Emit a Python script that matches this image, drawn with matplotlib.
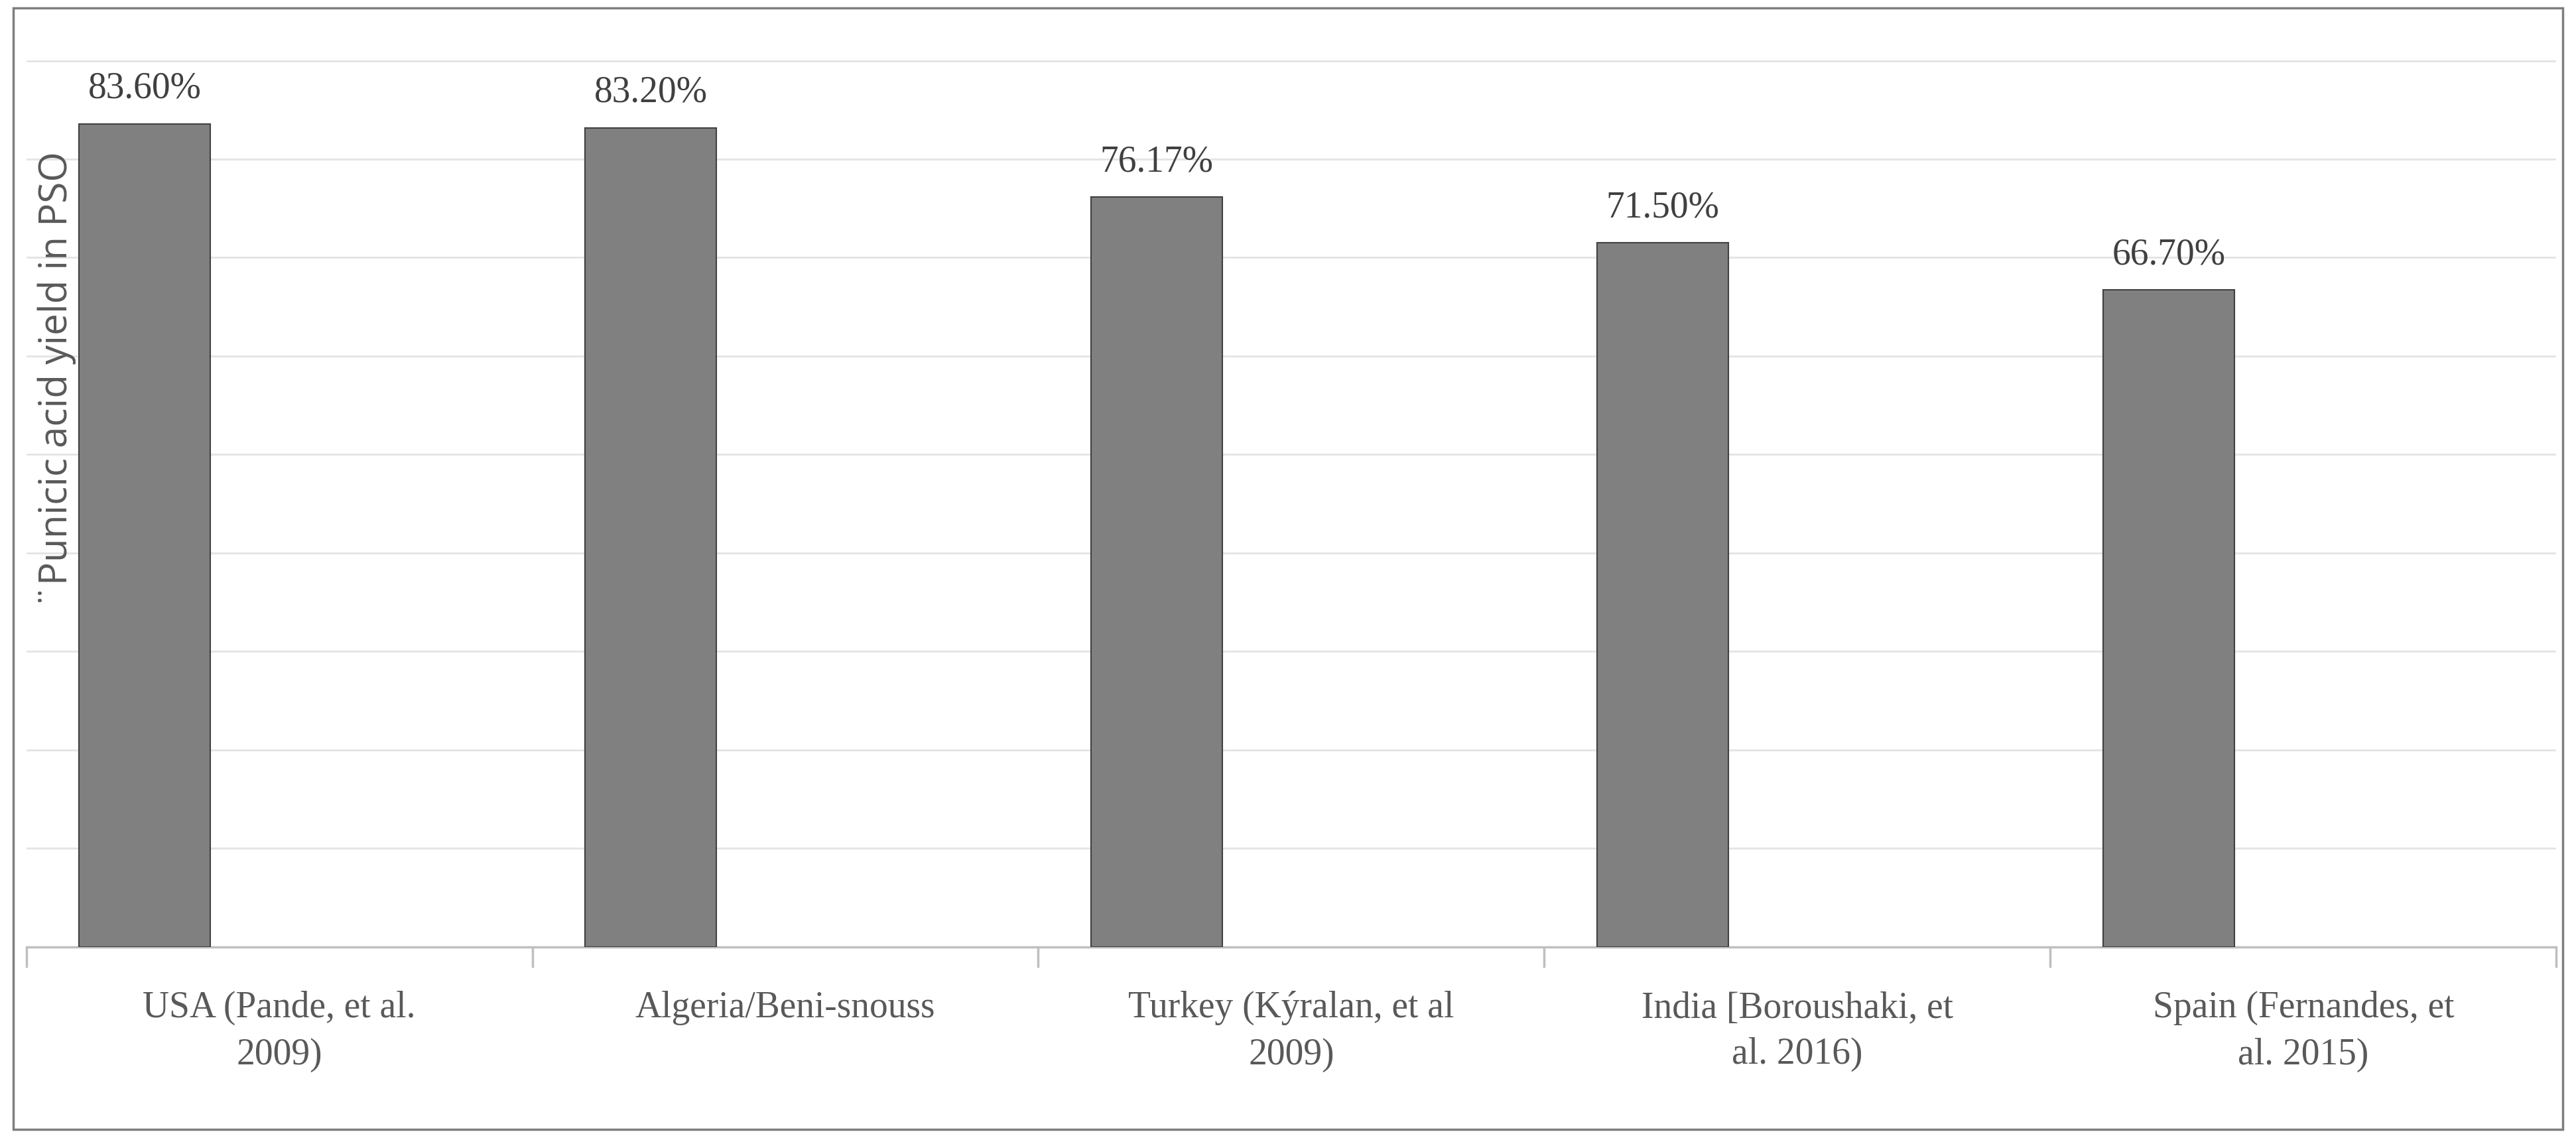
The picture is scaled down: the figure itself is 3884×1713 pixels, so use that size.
import matplotlib
matplotlib.use("Agg")
import matplotlib.pyplot as plt
from matplotlib.patches import Rectangle
import numpy as np

categories = ["USA (Pande, et al.\n2009)", "Algeria/Beni-snouss", "Turkey (Kýralan, et al\n2009)",
              "India [Boroushaki, et\nal. 2016)", "Spain (Fernandes, et\nal. 2015)"]
values = [83.60, 83.20, 76.17, 71.50, 66.70]
value_labels = ["83.60%", "83.20%", "76.17%", "71.50%", "66.70%"]
ylabel = "¨Punicic acid yield in PSO"

fig = plt.figure(figsize=(38.84, 17.13), dpi=100)
fig.patches.append(Rectangle((8/1568, 1-686/690), 1552/1568, 681/690, transform=fig.transFigure,
                             fill=False, edgecolor="#7f7f7f", linewidth=2.5))
ax = fig.add_axes([16/1568, 1-575/690, 1540/1568, 565/690])
x = np.arange(len(values))
ax.bar(x - 0.266, values, width=0.26, color="#808080", edgecolor="#404040", linewidth=1.5, zorder=3)
for xi, v, lab in zip(x, values, value_labels):
    ax.text(xi - 0.266, v + 1.8, lab, ha="center", va="bottom", fontsize=40,
            family="Liberation Serif", color="#404040")
ax.set_xlim(-0.5, 4.5)
ax.set_ylim(0, 94.5)
ax.set_yticks(np.arange(10, 91, 10))
ax.yaxis.grid(True, color="#e3e3e3", linewidth=2)
ax.tick_params(axis="y", length=0, labelleft=False)
ax.set_xticks(np.arange(-0.5, 4.6, 1))
ax.set_xticklabels([])
ax.tick_params(axis="x", length=22, width=2.5, color="#bfbfbf", direction="out")
for s in ["top", "right", "left"]:
    ax.spines[s].set_visible(False)
ax.spines["bottom"].set_color("#bfbfbf")
ax.spines["bottom"].set_linewidth(2.5)
for xi, c in zip(x, categories):
    ax.text(xi, -4.5, c, ha="center", va="top", fontsize=40, family="Liberation Serif",
            color="#595959", linespacing=1.45)
ax.text(0.012, 0.61, ylabel, rotation=90, ha="center", va="center", transform=ax.transAxes,
        fontsize=42, family="Open Sans", color="#595959")
fig.savefig("out.png", dpi=100)
